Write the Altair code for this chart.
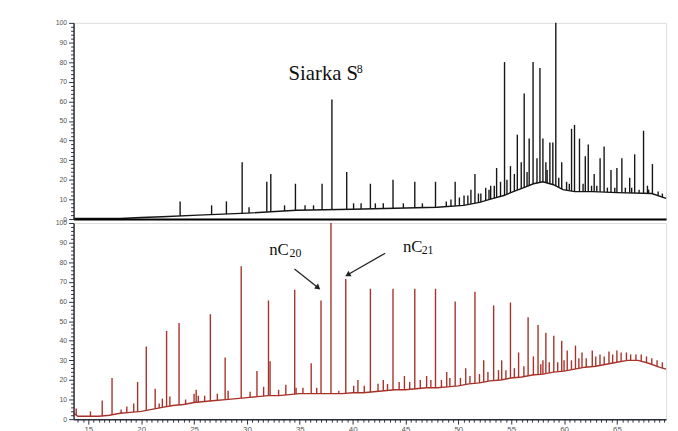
import altair as alt
import pandas as pd
import numpy as np

# ---------------- data (retention time [min], relative abundance [%]) -------------
# upper trace (black)
top_base_t = [13.6, 18, 20, 22, 25.4, 30, 34.7, 40, 44, 48, 50.5, 52, 53.3, 54.3, 55.2,
              56.2, 57.1, 58, 59, 59.9, 61, 62.7, 65, 68.3, 69.65]
top_base_v = [0.3, 0.3, 0.8, 1.2, 2, 3, 4.5, 5, 5.5, 6, 7, 8.5, 10.5, 12, 14,
              16, 18, 19, 17.5, 15, 14, 14, 13.5, 13, 10.5]
top_peak_t = [23.68, 26.66, 28.06, 29.55, 31.88, 32.26, 33.56, 34.59, 37.11, 38.04, 39.44,
              40.09, 41.68, 42.15, 43.82, 45.88, 47.84, 48.86, 49.70, 50.54, 51.19, 51.57,
              52.13, 52.59, 53.06, 53.62, 53.99, 54.37, 54.93, 55.30, 55.58, 55.95, 56.23,
              56.70, 57.07, 57.44, 57.72, 58.00, 58.28, 58.66, 58.94, 59.22, 59.78, 60.24,
              60.71, 60.99, 61.46, 62.01, 62.29, 62.85, 63.41, 63.79, 64.44, 65.00, 65.47,
              66.21, 66.68, 67.52, 67.89, 68.36,
              # small spikes
              30.2, 35.5, 36.3, 40.8, 42.9, 44.8, 46.6, 49.3, 50.1, 50.9, 51.9, 52.9, 53.4,
              54.6, 56.5, 58.4, 59.5, 60.5, 61.8, 62.6, 63.1, 64.1, 64.8, 65.8, 66.4, 67.1,
              68.0, 68.9, 69.3]
top_peak_h = [9, 7, 9, 29, 19, 23, 7, 18, 18, 61, 24,
              8, 18, 8, 20, 19, 19, 9, 19, 12, 15, 23,
              13, 16, 17, 26, 19, 80, 27, 23, 43, 29, 64,
              41, 80, 31, 77, 41, 29, 39, 39, 100, 29, 19,
              46, 48, 41, 32, 38, 23, 31, 37, 25, 26, 31,
              21, 33, 45, 17, 28,
              6, 7, 7, 8, 8, 8, 8, 10, 11, 12, 13, 15, 17,
              20, 24, 25, 21, 18, 18, 17, 17, 16, 16, 16, 16, 15,
              15, 14, 13]

# lower trace (red)
bot_base_t = [13.6, 14, 15, 16, 17, 18, 19, 20, 21, 22, 23, 24, 25, 26, 27, 28, 29, 30, 31,
              32, 33, 34, 35, 36, 37, 38, 39, 40, 41, 42, 43, 44, 45, 46, 47, 48, 49, 50,
              51, 52, 53, 54, 55, 56, 57, 58, 59, 60, 61, 62, 63, 64, 65, 66, 67, 68, 69, 69.65]
bot_base_v = [3, 1.5, 1.5, 1.5, 2, 3, 3.5, 4, 5, 6, 7, 7.5, 8.5, 9, 9.5, 10, 10.5, 11, 11.5,
              12, 12, 12.5, 13, 13, 13, 13, 13, 13.5, 13.5, 14, 14.5, 15, 15, 15.5, 16, 16, 16.5, 17,
              18, 18.5, 19.5, 20, 21, 21.5, 22.5, 23, 24, 24.5, 25.5, 26.5, 27, 28, 29, 30, 30, 28.5, 26.5, 25.5]
bot_peak_t = [13.85, 16.31, 17.24, 18.64, 19.29, 19.66, 20.48, 21.32, 22.0, 22.40, 22.71, 23.58,
              25.0, 25.2, 25.4, 26.54, 27.94, 28.22, 29.46, 30.95, 31.58, 32.04, 32.19, 33.68,
              34.52, 34.65, 36.08, 37.01, 37.95, 38.69, 39.35, 40.5, 41.68, 42.9, 43.82, 44.9,
              45.88, 47.0, 47.84, 48.9, 49.70, 50.7, 51.57, 52.4, 53.34, 54.1, 54.93, 55.7,
              56.60, 57.1, 57.54, 58.0, 58.28, 59.03, 59.78, 60.3, 61.08, 61.7, 62.67, 63.4,
              64.25, 65.0, 65.9,
              # small spikes
              15.2, 18.1, 21.7, 24.2, 26.0, 27.2, 30.3, 33.0, 35.3, 36.6, 40.1, 41.1, 42.4,
              43.3, 44.4, 45.4, 46.4, 47.4, 48.4, 49.2, 50.2, 51.1, 52.0, 52.8, 53.8, 54.5,
              55.3, 56.2, 57.8, 58.6, 59.4, 60.0, 60.7, 61.4, 62.1, 63.0, 63.8, 64.6, 65.4,
              66.3, 66.8, 67.3, 67.8, 68.3, 68.8, 69.3]
bot_peak_h = [5.5, 9.5, 21, 6.5, 8, 19, 37, 15.5, 10.5, 45, 11.5, 49,
              13, 15, 12, 53.5, 31.5, 14.5, 78, 24.5, 16.5, 60.5, 29.5, 17.5,
              66, 16, 28.5, 60.5, 100, 14.5, 71.5, 20, 66.5, 20, 66.5, 22,
              66.5, 22, 66.5, 24, 60, 26, 65, 30, 58, 30, 59.5, 34,
              52, 32, 48, 30, 44, 42.5, 40, 35, 37.5, 34, 35, 33,
              34.5, 35, 34,
              4, 5, 8, 10, 12, 13, 14, 15, 16, 16, 17, 17, 18,
              18, 19, 19, 20, 20, 20, 21, 21, 22, 23, 24, 25, 25,
              26, 27, 28, 29, 29, 30, 30, 31, 31, 32, 32, 33, 34,
              33, 33, 33, 32, 31, 30, 29]

# annotations
siarka_t, siarka_v = [33.94], [70.9]
sup_t, sup_v = [40.4], [74.6]
nc_t = [32.11, 44.76]
nc_v = [83.6, 85.3]
sub_t = [34.03, 46.53]
sub_v = [82.6, 84.1]
sub_txt = ["20", "21"]
arr_t1 = [34.50, 43.08]
arr_v1 = [76.6, 84.6]
arr_t2 = [36.74, 39.53]
arr_v2 = [67.0, 73.6]
arr_ang = [128, 240]

# ---------------- frames -------------
top_base = pd.DataFrame({"t": top_base_t, "v": top_base_v})
top_peaks = pd.DataFrame({"t": top_peak_t, "h": top_peak_h})
bot_base = pd.DataFrame({"t": bot_base_t, "v": bot_base_v})
bot_peaks = pd.DataFrame({"t": bot_peak_t, "h": bot_peak_h})
arrows = pd.DataFrame({"t1": arr_t1, "v1": arr_v1, "t2": arr_t2, "v2": arr_v2, "ang": arr_ang})

W = 601
H_TOP = 199
H_BOT = 199
BLACK = "#151515"
RED = "#a8322a"
AXC = "#2b2f3a"

x_scale = alt.Scale(domain=[13.6, 69.65], nice=False, zero=False)
y_scale = alt.Scale(domain=[0, 100], nice=False)

y_axis = alt.Axis(
    values=list(range(0, 101, 2)),
    labelExpr="datum.value % 10 === 0 ? datum.value : ''",
    tickSize={"condition": {"test": "datum.value % 10 === 0", "value": 5}, "value": 3},
    title=None, grid=False, domainColor=AXC, domainWidth=1.5, tickColor=AXC,
    labelFontSize=7, labelColor="#555", labelFont="Liberation Sans", labelPadding=2,
    zindex=1,
)
x_axis_top = alt.Axis(labels=False, ticks=False, title=None, grid=False,
                      domainColor="black", domainWidth=2, zindex=1)
x_axis_bot = alt.Axis(
    values=[float(v) for v in np.arange(14, 69.6, 0.5)],
    labelExpr="datum.value % 5 === 0 ? datum.value : ''",
    tickSize={"condition": {"test": "datum.value % 5 === 0", "value": 5}, "value": 3},
    title=None, grid=False, domainColor=AXC, domainWidth=1.5, tickColor=AXC,
    labelFontSize=8, labelColor="#555", labelFont="Liberation Sans", labelPadding=2,
    zindex=1,
)


def panel(base, peaks, color, xax):
    X = lambda f: alt.X(f, type="quantitative", scale=x_scale, axis=xax)
    Y = lambda f: alt.Y(f, type="quantitative", scale=y_scale, axis=y_axis)
    rules = alt.Chart(peaks).mark_rule(color=color, strokeWidth=1.4).encode(
        x=X("t"), y=Y("h"), y2=alt.datum(0))
    mask = alt.Chart(base).mark_area(color="white", opacity=1).encode(x=X("t"), y=Y("v"))
    line = alt.Chart(base).mark_line(color=color, strokeWidth=1.4).encode(x=X("t"), y=Y("v"))
    return rules, mask, line, X, Y


r1, m1, l1, X1, Y1 = panel(top_base, top_peaks, BLACK, x_axis_top)
t1 = alt.Chart(pd.DataFrame({"t": siarka_t, "v": siarka_v, "s": ["Siarka S"]})).mark_text(
    font="Liberation Serif", fontSize=21, align="left", baseline="alphabetic", color="#111"
).encode(x=X1("t"), y=Y1("v"), text="s:N")
t1s = alt.Chart(pd.DataFrame({"t": sup_t, "v": sup_v, "s": ["8"]})).mark_text(
    font="Liberation Serif", fontSize=12, align="left", baseline="alphabetic", color="#111"
).encode(x=X1("t"), y=Y1("v"), text="s:N")
top = alt.layer(r1, m1, l1, t1, t1s).properties(width=W, height=H_TOP)

r2, m2, l2, X2, Y2 = panel(bot_base, bot_peaks, RED, x_axis_bot)
nc = alt.Chart(pd.DataFrame({"t": nc_t, "v": nc_v, "s": ["nC", "nC"]})).mark_text(
    font="Liberation Serif", fontSize=17, align="left", baseline="alphabetic", color="#111"
).encode(x=X2("t"), y=Y2("v"), text="s:N")
sub = alt.Chart(pd.DataFrame({"t": sub_t, "v": sub_v, "s": sub_txt})).mark_text(
    font="Liberation Serif", fontSize=12, align="left", baseline="alphabetic", color="#111"
).encode(x=X2("t"), y=Y2("v"), text="s:N")
ar_line = alt.Chart(arrows).mark_rule(color="#222", strokeWidth=1.3).encode(
    x=X2("t1"), y=Y2("v1"), x2="t2:Q", y2="v2:Q")
ar_head = alt.Chart(arrows).mark_point(shape="triangle-up", filled=True, color="#222",
                                       size=40, opacity=1).encode(
    x=X2("t2"), y=Y2("v2"), angle=alt.Angle("ang:Q", scale=None))
bottom = alt.layer(r2, m2, l2, nc, sub, ar_line, ar_head).properties(width=W, height=H_BOT)

chart = alt.vconcat(top, bottom, spacing=4).properties(
    bounds="flush",
    padding={"left": 46.5, "top": 7, "right": 0, "bottom": 0},
).configure_view(stroke=None).configure(background="white")

chart.save("out.html", embed_options={"renderer": "svg", "actions": False})
